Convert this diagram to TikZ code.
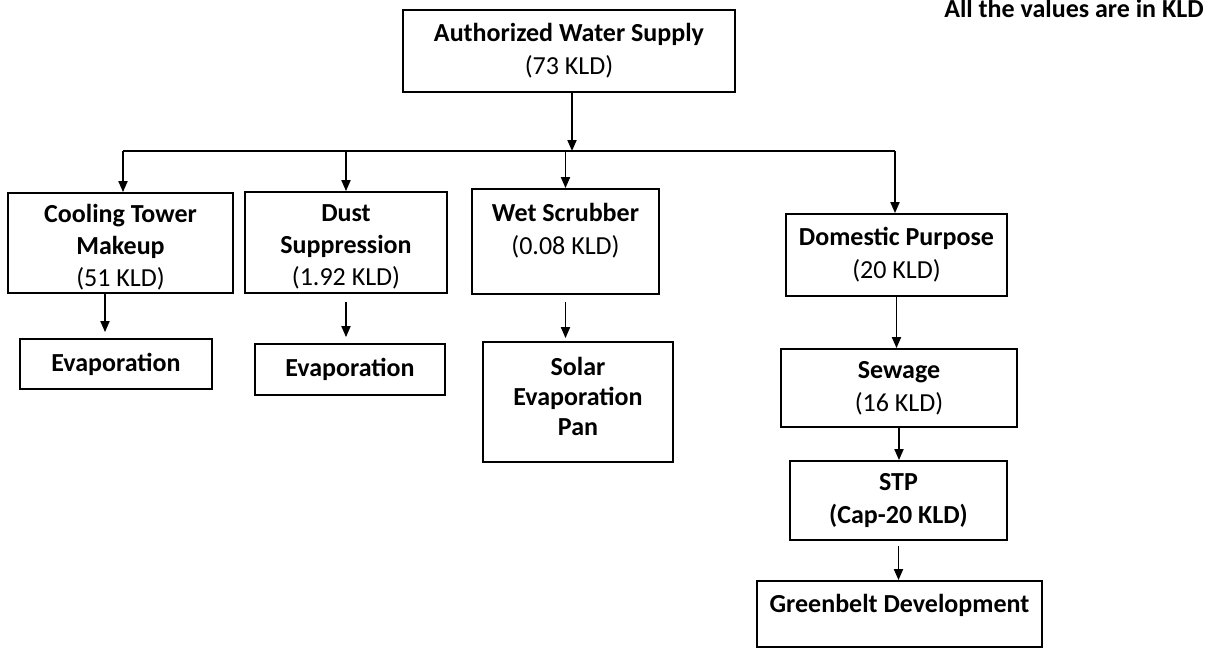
\documentclass[tikz,border=0pt]{standalone}
\usepackage{fontspec}
\setmainfont{Carlito}
\usetikzlibrary{arrows.meta}

\tikzset{
  box/.style={draw, line width=0.9pt, align=center, inner sep=2pt,
    font=\fontsize{13}{16.5}\selectfont},
  lowbox/.style={box, inner ysep=0.5pt, font=\fontsize{13}{16}\selectfont},
  arr/.style={-{Triangle[length=5.5pt,width=4.5pt]}, line width=0.9pt},
  bus/.style={line width=0.9pt},
}
\newcommand{\topgap}{\rule{0pt}{13pt}}

\begin{document}
\begin{tikzpicture}[x=0.5pt,y=-0.5pt]
  \useasboundingbox (0,0) rectangle (1216,650);

  \node[font=\bfseries\fontsize{13}{16.5}\selectfont, inner sep=0pt, anchor=base east] (note) at (1204,17) {All the values are in KLD};

  \node[box, minimum width=166pt, minimum height=41pt] (supply) at (569,51)
    {\textbf{Authorized Water Supply}\\(73 KLD)};

  \node[lowbox, minimum width=112.5pt, minimum height=50pt] (cool) at (120.5,243)
    {\topgap\textbf{Cooling Tower}\\\textbf{Makeup}\\(51 KLD)};
  \node[lowbox, minimum width=101pt, minimum height=50.5pt] (dust) at (346,242.5)
    {\topgap\textbf{Dust}\\\textbf{Suppression}\\(1.92 KLD)};
  \node[box, minimum width=93.5pt, minimum height=52.5pt, text depth=12.5pt] (wet) at (565.5,241.5)
    {\textbf{Wet Scrubber}\\(0.08 KLD)};
  \node[box, minimum width=110.5pt, minimum height=41pt] (domestic) at (896.5,255)
    {\textbf{Domestic Purpose}\\(20 KLD)};

  \node[box, minimum width=96pt, minimum height=25pt] (evapA) at (116,364) {\textbf{Evaporation}};
  \node[box, minimum width=95pt, minimum height=25.5pt] (evapB) at (350,369.5) {\textbf{Evaporation}};
  \node[box, minimum width=95pt, minimum height=60pt, text depth=6pt, font=\fontsize{13}{15}\selectfont] (solar) at (578,402)
    {\textbf{Solar}\\\textbf{Evaporation}\\\textbf{Pan}};

  \node[box, minimum width=118pt, minimum height=39pt] (sewage) at (899,388)
    {\textbf{Sewage}\\(16 KLD)};
  \node[box, minimum width=108.5pt, minimum height=39.5pt] (stp) at (898.5,500.5)
    {\textbf{STP}\\\textbf{(Cap-20 KLD)}};
  \node[box, minimum width=142.5pt, minimum height=33pt, text depth=11pt] (green) at (899.5,614)
    {\textbf{Greenbelt Development}};

  % distribution line
  \coordinate (hub) at (572,151);
  \coordinate (busL) at (123,151);
  \coordinate (busR) at (895,151);
  \draw[arr] (supply.south -| hub) -- (hub);
  \draw[bus] (busL) -- (busR);
  \draw[arr] (busL) -- (busL |- cool.north);
  \draw[arr] (dust.north |- busL) -- (dust.north);
  \draw[arr] (wet.north |- busL) -- (wet.north);
  \draw[arr] (busR) -- (busR |- domestic.north);

  % second level
  \draw[arr, shorten >=3pt] ([xshift=-7.75pt]cool.south) -- ([xshift=-7.75pt]cool.south |- evapA.north);
  \draw[arr, shorten <=4pt, shorten >=3pt] (dust.south) -- (dust.south |- evapB.north);
  \draw[arr, shorten <=3.5pt, shorten >=1.5pt] (wet.south) -- (wet.south |- solar.north);
  \draw[arr] (domestic.south) -- (domestic.south |- sewage.north);
  \draw[arr] (sewage.south) -- (sewage.south |- stp.north);
  \draw[arr, shorten <=2.5pt] (stp.south) -- (stp.south |- green.north);
\end{tikzpicture}
\end{document}
